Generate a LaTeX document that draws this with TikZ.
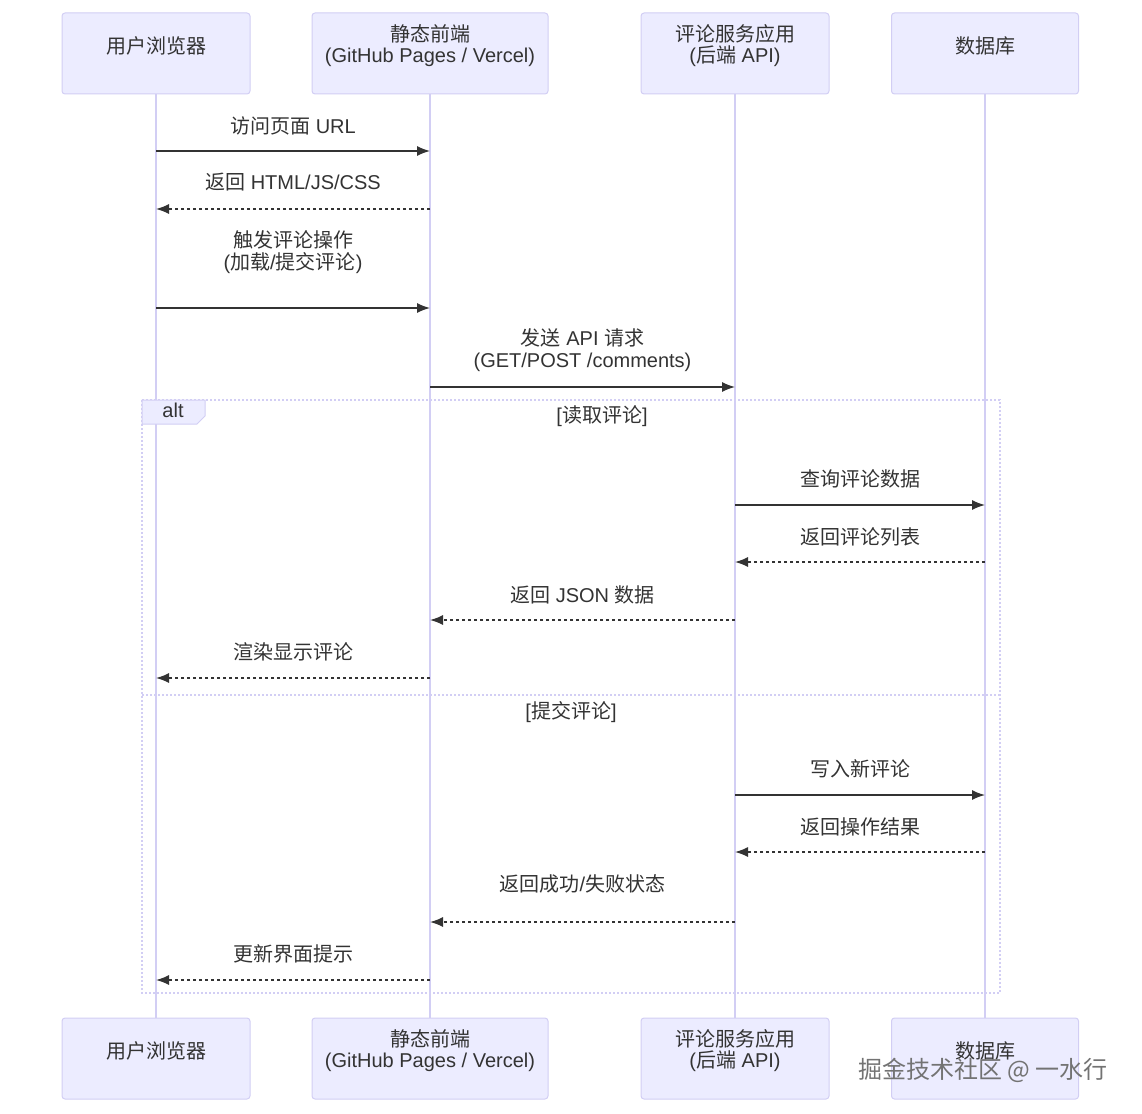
\documentclass[tikz,border=0pt]{standalone}
\usepackage{fontspec}
\setmainfont{Liberation Sans}
\newfontfamily\cjk{Noto Sans CJK SC}
\usetikzlibrary{arrows.meta}
\definecolor{boxfill}{HTML}{ECECFF}
\definecolor{boxline}{HTML}{D2CEF4}
\definecolor{txt}{HTML}{333333}
\tikzset{
  actor/.style={draw=boxline,fill=boxfill,line width=1pt,rounded corners=3pt,
    minimum height=81pt,inner sep=0pt},
  actortext/.style={text=txt,align=center,inner sep=0pt,
    font=\fontsize{20}{21}\selectfont},
  lifeline/.style={draw=boxline,line width=2pt},
  msg/.style={draw=txt,line width=1.4pt,-{Latex[length=13pt,width=10pt]}},
  reply/.style={msg,dash pattern=on 3pt off 3pt},
  msglabel/.style={text=txt,align=center,inner sep=0pt,
    font=\fontsize{20}{22}\selectfont},
  altframe/.style={draw=boxline,line width=2pt,dash pattern=on 2pt off 2pt}
}
\begin{document}
\begin{tikzpicture}[x=1pt,y=-1pt]
\useasboundingbox (0,0) rectangle (1142,1113);
%actors top and bottom
\foreach \n/\x/\w/\t in {ub/156/188/{{\cjk 用户浏览器}},
    fe/430/236/{{\cjk 静态前端}\\(GitHub Pages / Vercel)},
    api/735/188/{{\cjk 评论服务应用}\\({\cjk 后端} API)},
    db/985/187/{{\cjk 数据库}}}{
  \node[actor,minimum width=\w pt] (\n) at (\x,53.5) {};
  \node[actortext] (\n T) at ([yshift=8pt]\n.center) {\t};
  \node[actor,minimum width=\w pt] (\n B) at (\x,1058.5) {};
  \node[actortext] (\n BT) at ([yshift=8pt]\n B.center) {\t};
  \draw[lifeline] (\n.south) -- (\n B.north);
}
%alt frame
\draw[altframe] (142,400) rectangle (1000,993);
\draw[altframe] (142,695) -- (1000,695);
\draw[boxline,fill=boxfill,line width=1pt] (142,400) -- (205,400) -- (205,416)
  -- (197,424) -- (142,424) -- cycle;
\node[msglabel] (alt) at (173,410) {alt};
\node[msglabel] (read) at (602,416) {[{\cjk 读取评论}]};
\node[msglabel] (post) at (571,712) {[{\cjk 提交评论}]};
%messages
\foreach \y/\a/\b/\s/\ly/\t [count=\i] in {
    151/156/430/msg/126/{{\cjk 访问页面} URL},
    209/430/156/reply/182/{{\cjk 返回} HTML/JS/CSS},
    308/156/430/msg/252/{{\cjk 触发评论操作}\\({\cjk 加载}/{\cjk 提交评论})},
    387/430/735/msg/350/{{\cjk 发送} API {\cjk 请求}\\(GET/POST /comments)},
    505/735/985/msg/479/{{\cjk 查询评论数据}},
    562/985/735/reply/537/{{\cjk 返回评论列表}},
    620/735/430/reply/595/{{\cjk 返回} JSON {\cjk 数据}},
    678/430/156/reply/652/{{\cjk 渲染显示评论}},
    795/735/985/msg/769/{{\cjk 写入新评论}},
    852/985/735/reply/827/{{\cjk 返回操作结果}},
    922/735/430/reply/884/{{\cjk 返回成功}/{\cjk 失败状态}},
    980/430/156/reply/954/{{\cjk 更新界面提示}}}{
  \coordinate (s\i) at (\a,\y);
  \coordinate (e\i) at (\b,\y);
  \draw[\s] (s\i) -- (e\i);
  \node[msglabel] (l\i) at ({(\a+\b)/2},\ly) {\t};
}
%watermark
\node[text=black!55,inner sep=0pt,font=\cjk\fontsize{24}{24}\selectfont] (mark)
  at (983,1070) {掘金技术社区 @ 一水行};
\end{tikzpicture}
\end{document}
